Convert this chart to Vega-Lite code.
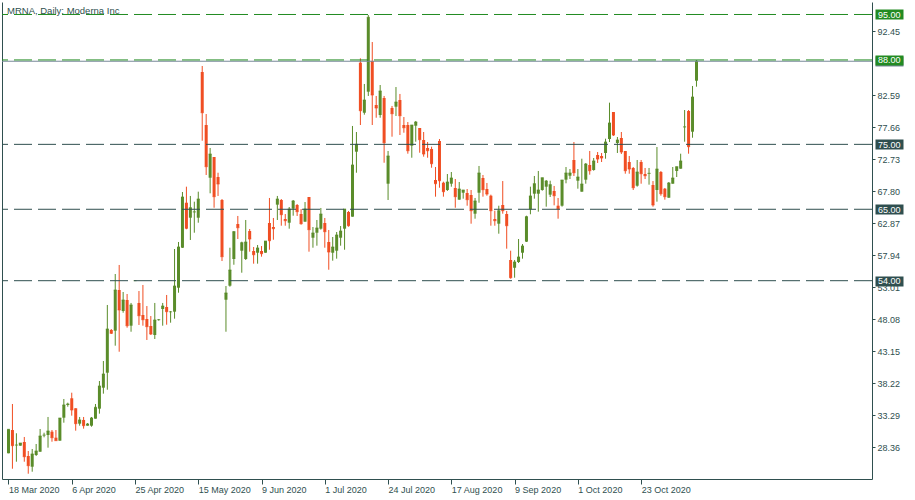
{
"$schema": "https://vega.github.io/schema/vega-lite/v6.json",
"width": 870, "height": 477,
"autosize": "none",
"padding": {"left": 2, "top": 2, "right": 43, "bottom": 21},
"background": "#ffffff",
"title": {"text": "MRNA, Daily:  Moderna Inc", "anchor": "start", "frame": "group", "orient": "top", "offset": -21, "baseline": "alphabetic", "dx": 5, "font": "Liberation Sans", "fontSize": 9.5, "fontWeight": "normal", "color": "#2f4f4f"},
"config": {"view": {"stroke": null}, "axis": {"grid": false, "labelFont": "Liberation Sans", "labelFontSize": 9, "labelColor": "#2f4f4f", "domainColor": "#2f4f4f", "tickColor": "#2f4f4f", "domainWidth": 1, "tickWidth": 1}},
"datasets": {
"candles": [
{"i":0,"open":27.42,"high":31.11,"low":27.42,"close":31.11},
{"i":1,"open":31.00,"high":35.01,"low":25.04,"close":28.59},
{"i":2,"open":28.66,"high":30.50,"low":26.12,"close":28.70},
{"i":3,"open":28.59,"high":29.00,"low":28.59,"close":29.00},
{"i":4,"open":29.16,"high":29.93,"low":26.12,"close":26.89},
{"i":5,"open":27.00,"high":27.77,"low":24.27,"close":25.51},
{"i":6,"open":25.35,"high":28.08,"low":24.58,"close":27.31},
{"i":7,"open":27.15,"high":28.85,"low":27.00,"close":27.77},
{"i":8,"open":27.66,"high":31.16,"low":27.66,"close":30.08},
{"i":9,"open":30.19,"high":30.59,"low":29.88,"close":30.23},
{"i":10,"open":30.23,"high":33.01,"low":28.28,"close":30.85},
{"i":11,"open":30.74,"high":31.00,"low":29.20,"close":29.82},
{"i":12,"open":29.82,"high":31.00,"low":29.36,"close":29.36},
{"i":13,"open":29.36,"high":32.85,"low":29.36,"close":32.85},
{"i":14,"open":32.90,"high":35.78,"low":32.13,"close":34.86},
{"i":15,"open":34.86,"high":35.21,"low":34.59,"close":35.01},
{"i":16,"open":35.89,"high":36.75,"low":33.21,"close":34.09},
{"i":17,"open":34.35,"high":34.35,"low":30.90,"close":31.98},
{"i":18,"open":31.98,"high":33.01,"low":31.67,"close":32.55},
{"i":19,"open":32.55,"high":33.01,"low":31.21,"close":31.67},
{"i":20,"open":31.67,"high":32.08,"low":31.67,"close":31.93},
{"i":21,"open":31.67,"high":33.01,"low":31.51,"close":32.85},
{"i":22,"open":32.75,"high":35.01,"low":32.75,"close":34.50},
{"i":23,"open":34.29,"high":38.55,"low":33.52,"close":37.78},
{"i":24,"open":37.52,"high":41.63,"low":36.60,"close":39.63},
{"i":25,"open":39.83,"high":50.26,"low":37.21,"close":46.56},
{"i":26,"open":46.41,"high":46.56,"low":45.79,"close":45.90},
{"i":27,"open":46.30,"high":55.03,"low":43.99,"close":52.57},
{"i":28,"open":52.57,"high":56.42,"low":43.06,"close":49.49},
{"i":29,"open":49.33,"high":52.26,"low":49.07,"close":51.03},
{"i":30,"open":51.03,"high":51.95,"low":46.76,"close":47.07},
{"i":31,"open":47.07,"high":50.57,"low":46.14,"close":50.26},
{"i":32,"open":54.00,"high":54.00,"low":54.00,"close":54.00},
{"i":33,"open":50.57,"high":52.41,"low":47.18,"close":48.61},
{"i":34,"open":48.72,"high":53.34,"low":47.07,"close":47.99},
{"i":35,"open":48.10,"high":50.10,"low":44.87,"close":46.92},
{"i":36,"open":47.02,"high":48.56,"low":45.64,"close":45.79},
{"i":37,"open":45.64,"high":50.57,"low":45.02,"close":47.95},
{"i":38,"open":47.95,"high":48.10,"low":47.84,"close":47.99},
{"i":39,"open":49.64,"high":50.57,"low":47.07,"close":50.10},
{"i":40,"open":49.95,"high":51.80,"low":47.22,"close":49.23},
{"i":41,"open":49.18,"high":49.33,"low":47.53,"close":49.20},
{"i":42,"open":49.23,"high":58.88,"low":48.15,"close":53.18},
{"i":43,"open":52.92,"high":59.96,"low":52.15,"close":59.19},
{"i":44,"open":59.08,"high":67.66,"low":59.04,"close":66.89},
{"i":45,"open":66.01,"high":68.48,"low":61.92,"close":62.07},
{"i":46,"open":63.70,"high":67.05,"low":60.27,"close":65.24},
{"i":47,"open":64.55,"high":66.17,"low":61.39,"close":64.61},
{"i":48,"open":63.70,"high":67.71,"low":62.93,"close":66.58},
{"i":49,"open":86.14,"high":87.07,"low":75.56,"close":79.87},
{"i":50,"open":77.98,"high":79.67,"low":70.28,"close":71.56},
{"i":51,"open":69.86,"high":74.44,"low":67.46,"close":73.51},
{"i":52,"open":73.05,"high":73.05,"low":65.24,"close":66.94},
{"i":53,"open":69.97,"high":70.63,"low":67.05,"close":68.89},
{"i":54,"open":66.43,"high":66.58,"low":57.03,"close":57.70},
{"i":55,"open":51.07,"high":53.18,"low":46.14,"close":52.11},
{"i":56,"open":53.23,"high":59.08,"low":53.08,"close":55.65},
{"i":57,"open":57.34,"high":61.65,"low":56.46,"close":61.55},
{"i":58,"open":62.73,"high":63.97,"low":60.42,"close":62.16},
{"i":59,"open":58.62,"high":60.01,"low":55.23,"close":59.85},
{"i":60,"open":57.34,"high":63.35,"low":57.19,"close":59.96},
{"i":61,"open":61.65,"high":61.96,"low":58.47,"close":60.42},
{"i":62,"open":58.57,"high":59.19,"low":56.62,"close":58.00},
{"i":63,"open":58.31,"high":59.50,"low":56.62,"close":59.04},
{"i":64,"open":58.57,"high":59.34,"low":57.70,"close":58.16},
{"i":65,"open":58.31,"high":60.11,"low":58.31,"close":60.11},
{"i":66,"open":62.89,"high":66.74,"low":58.77,"close":60.16},
{"i":67,"open":62.27,"high":63.66,"low":60.31,"close":62.01},
{"i":68,"open":65.71,"high":67.05,"low":63.35,"close":66.58},
{"i":69,"open":66.43,"high":66.58,"low":62.47,"close":64.17},
{"i":70,"open":63.50,"high":64.27,"low":62.47,"close":63.24},
{"i":71,"open":62.93,"high":65.35,"low":62.01,"close":65.04},
{"i":72,"open":65.09,"high":66.43,"low":64.01,"close":66.28},
{"i":73,"open":65.66,"high":65.81,"low":63.97,"close":64.63},
{"i":74,"open":64.27,"high":65.04,"low":62.63,"close":62.78},
{"i":75,"open":63.09,"high":66.12,"low":63.09,"close":65.04},
{"i":76,"open":66.89,"high":66.89,"low":58.47,"close":61.86},
{"i":77,"open":60.62,"high":62.27,"low":59.08,"close":61.35},
{"i":78,"open":61.39,"high":63.35,"low":59.39,"close":62.12},
{"i":79,"open":62.01,"high":65.20,"low":61.86,"close":64.27},
{"i":80,"open":62.89,"high":63.66,"low":59.08,"close":61.55},
{"i":81,"open":59.96,"high":61.81,"low":55.69,"close":58.42},
{"i":82,"open":58.31,"high":60.73,"low":57.08,"close":59.19},
{"i":83,"open":58.62,"high":61.50,"low":57.39,"close":61.04},
{"i":84,"open":60.62,"high":62.42,"low":59.39,"close":61.65},
{"i":85,"open":62.01,"high":65.04,"low":58.77,"close":65.04},
{"i":86,"open":64.58,"high":64.74,"low":62.32,"close":62.47},
{"i":87,"open":63.86,"high":77.83,"low":63.86,"close":71.82},
{"i":88,"open":73.87,"high":76.90,"low":70.63,"close":75.01},
{"i":89,"open":87.58,"high":88.25,"low":77.98,"close":80.18},
{"i":90,"open":79.87,"high":84.30,"low":79.57,"close":81.83},
{"i":91,"open":83.11,"high":94.92,"low":82.45,"close":94.57},
{"i":92,"open":87.84,"high":90.76,"low":77.98,"close":82.60},
{"i":93,"open":81.06,"high":82.45,"low":79.10,"close":80.60},
{"i":94,"open":79.52,"high":84.14,"low":79.10,"close":83.22},
{"i":95,"open":82.14,"high":82.45,"low":72.17,"close":75.25},
{"i":96,"open":68.94,"high":73.98,"low":66.43,"close":73.21},
{"i":97,"open":80.60,"high":80.91,"low":76.18,"close":79.72},
{"i":98,"open":80.80,"high":83.83,"low":79.37,"close":81.52},
{"i":99,"open":81.83,"high":82.76,"low":76.44,"close":79.41},
{"i":100,"open":77.98,"high":79.21,"low":76.79,"close":77.56},
{"i":101,"open":77.98,"high":78.44,"low":73.56,"close":74.02},
{"i":102,"open":74.79,"high":77.98,"low":72.94,"close":77.98},
{"i":103,"open":77.87,"high":78.60,"low":75.41,"close":78.44},
{"i":104,"open":77.52,"high":77.52,"low":73.71,"close":75.72},
{"i":105,"open":75.67,"high":76.90,"low":73.10,"close":73.51},
{"i":106,"open":74.44,"high":75.36,"low":72.94,"close":74.02},
{"i":107,"open":74.28,"high":74.64,"low":71.40,"close":72.02},
{"i":108,"open":69.51,"high":71.51,"low":66.94,"close":68.94},
{"i":109,"open":75.52,"high":75.82,"low":68.32,"close":69.40},
{"i":110,"open":69.09,"high":69.25,"low":66.94,"close":67.71},
{"i":111,"open":67.97,"high":70.43,"low":67.82,"close":69.20},
{"i":112,"open":68.94,"high":70.74,"low":68.48,"close":69.82},
{"i":113,"open":68.28,"high":69.66,"low":65.24,"close":66.94},
{"i":114,"open":66.48,"high":69.20,"low":66.48,"close":68.12},
{"i":115,"open":67.55,"high":67.97,"low":66.63,"close":67.97},
{"i":116,"open":67.51,"high":68.12,"low":65.55,"close":66.48},
{"i":117,"open":67.20,"high":67.97,"low":62.78,"close":64.78},
{"i":118,"open":64.32,"high":66.74,"low":63.55,"close":66.28},
{"i":119,"open":67.55,"high":71.67,"low":66.01,"close":70.59},
{"i":120,"open":69.82,"high":70.28,"low":66.94,"close":68.02},
{"i":121,"open":68.12,"high":69.05,"low":67.09,"close":67.35},
{"i":122,"open":67.09,"high":67.25,"low":62.47,"close":64.78},
{"i":123,"open":63.50,"high":64.78,"low":62.47,"close":63.24},
{"i":124,"open":62.78,"high":65.55,"low":61.24,"close":64.78},
{"i":125,"open":65.66,"high":69.35,"low":64.32,"close":64.78},
{"i":126,"open":64.27,"high":64.74,"low":58.93,"close":62.47},
{"i":127,"open":57.19,"high":58.62,"low":54.31,"close":54.46},
{"i":128,"open":56.00,"high":57.19,"low":54.46,"close":56.88},
{"i":129,"open":56.88,"high":60.42,"low":56.73,"close":57.65},
{"i":130,"open":58.31,"high":59.65,"low":57.39,"close":59.34},
{"i":131,"open":60.01,"high":64.01,"low":59.96,"close":63.86},
{"i":132,"open":65.00,"high":68.48,"low":64.23,"close":67.05},
{"i":133,"open":67.40,"high":70.13,"low":66.63,"close":68.94},
{"i":134,"open":67.40,"high":70.90,"low":64.63,"close":67.97},
{"i":135,"open":67.97,"high":69.86,"low":67.86,"close":69.86},
{"i":136,"open":68.48,"high":69.51,"low":65.40,"close":69.35},
{"i":137,"open":67.25,"high":69.40,"low":66.89,"close":68.79},
{"i":138,"open":67.82,"high":68.59,"low":65.61,"close":67.09},
{"i":139,"open":65.55,"high":66.74,"low":63.55,"close":65.09},
{"i":140,"open":65.55,"high":69.51,"low":65.40,"close":69.51},
{"i":141,"open":69.56,"high":71.51,"low":69.00,"close":70.59},
{"i":142,"open":70.17,"high":71.20,"low":69.66,"close":70.59},
{"i":143,"open":72.59,"high":75.36,"low":70.13,"close":70.63},
{"i":144,"open":69.40,"high":71.20,"low":68.17,"close":69.97},
{"i":145,"open":67.71,"high":72.79,"low":67.71,"close":68.89},
{"i":146,"open":69.56,"high":72.13,"low":68.94,"close":71.97},
{"i":147,"open":71.82,"high":73.98,"low":70.33,"close":70.94},
{"i":148,"open":71.05,"high":72.90,"low":70.94,"close":72.44},
{"i":149,"open":73.36,"high":73.82,"low":72.13,"close":72.74},
{"i":150,"open":73.21,"high":73.67,"low":72.28,"close":72.90},
{"i":151,"open":73.67,"high":75.87,"low":72.79,"close":75.36},
{"i":152,"open":75.82,"high":81.42,"low":75.36,"close":78.29},
{"i":153,"open":79.98,"high":79.98,"low":76.29,"close":76.44},
{"i":154,"open":75.21,"high":76.13,"low":73.67,"close":75.67},
{"i":155,"open":75.98,"high":76.90,"low":73.51,"close":73.82},
{"i":156,"open":73.98,"high":73.98,"low":70.48,"close":70.94},
{"i":157,"open":72.28,"high":73.21,"low":70.48,"close":71.20},
{"i":158,"open":71.36,"high":71.51,"low":67.97,"close":68.32},
{"i":159,"open":68.63,"high":72.59,"low":68.48,"close":70.74},
{"i":160,"open":72.28,"high":72.59,"low":68.94,"close":70.48},
{"i":161,"open":70.43,"high":71.36,"low":69.66,"close":70.17},
{"i":162,"open":70.48,"high":71.36,"low":68.79,"close":70.54},
{"i":163,"open":68.74,"high":69.35,"low":65.40,"close":65.66},
{"i":164,"open":67.97,"high":74.59,"low":66.17,"close":71.20},
{"i":165,"open":70.74,"high":70.90,"low":67.09,"close":67.40},
{"i":166,"open":68.17,"high":68.28,"low":66.48,"close":66.94},
{"i":167,"open":66.78,"high":69.20,"low":66.78,"close":69.05},
{"i":168,"open":68.94,"high":71.51,"low":68.94,"close":69.82},
{"i":169,"open":70.90,"high":71.56,"low":69.97,"close":71.56},
{"i":170,"open":71.25,"high":73.56,"low":71.25,"close":72.44},
{"i":171,"open":77.64,"high":80.29,"low":75.41,"close":77.70},
{"i":172,"open":80.14,"high":80.29,"low":73.56,"close":74.64},
{"i":173,"open":76.95,"high":83.99,"low":76.02,"close":82.29},
{"i":174,"open":84.80,"high":87.99,"low":83.88,"close":87.80}
],
"levels": [{"level":95},{"level":88},{"level":75},{"level":65},{"level":54}],
"bid": [{"bid":87.8}]
},
"resolve": {"axis": {"y": "independent"}},
"layer": [
{"data": {"name": "candles"},
 "mark": {"type": "rule", "strokeWidth": 1},
 "encoding": {
  "x": {"field": "i", "type": "quantitative", "scale": {"domain": [-0.375, 217.125], "nice": false, "zero": false},
        "axis": {"title": null, "values": [0,16,32,48,64,80,96,112,128,144,160],
                 "labelExpr": "['18 Mar 2020','6 Apr 2020','25 Apr 2020','15 May 2020','9 Jun 2020','1 Jul 2020','24 Jul 2020','17 Aug 2020','9 Sep 2020','1 Oct 2020','23 Oct 2020'][round(datum.value/16)]",
                 "labelAlign": "left", "labelBaseline": "top", "labelPadding": 1, "tickSize": 5,
                 "labelFlush": false, "labelOverlap": false, "labelBound": false}},
  "y": {"field": "low", "type": "quantitative", "scale": {"domain": [23.457, 96.925], "nice": false, "zero": false},
        "axis": {"title": null, "orient": "right", "zindex": 1,
                 "values": [28.36,33.29,38.22,43.15,48.08,53.01,57.94,62.87,67.80,72.73,77.66,82.59,92.45],
                 "format": ".2f", "tickSize": 3, "labelPadding": 2, "labelOverlap": false, "labelFlush": false, "labelBound": false}},
  "y2": {"field": "high"},
  "color": {"condition": {"test": "datum.close >= datum.open", "value": "#5a8c2a"}, "value": "#f04e23"}
 }},
{"data": {"name": "candles"},
 "mark": {"type": "bar", "width": 3},
 "encoding": {
  "x": {"field": "i", "type": "quantitative"},
  "y": {"field": "open", "type": "quantitative",
        "axis": {"title": null, "orient": "left", "labels": false, "ticks": false, "domain": true}},
  "y2": {"field": "close"},
  "color": {"condition": {"test": "datum.close >= datum.open", "value": "#5a8c2a"}, "value": "#f04e23"}
 }},
{"data": {"name": "candles"},
 "mark": {"type": "tick", "orient": "horizontal", "size": 3, "thickness": 1},
 "encoding": {
  "x": {"field": "i", "type": "quantitative"},
  "y": {"field": "close", "type": "quantitative", "axis": null},
  "color": {"condition": {"test": "datum.close >= datum.open", "value": "#5a8c2a"}, "value": "#f04e23"}
 }},
{"data": {"name": "bid"},
 "mark": {"type": "rule", "strokeWidth": 1, "color": "#778899"},
 "encoding": {
  "y": {"field": "bid", "type": "quantitative", "axis": null}
 }},
{"data": {"name": "levels"},
 "mark": {"type": "rule", "strokeWidth": 1, "strokeDash": [18, 6]},
 "encoding": {
  "y": {"field": "level", "type": "quantitative",
        "axis": {"title": null, "orient": "right", "offset": 3, "zindex": 2, "domain": false,
                 "values": [87.8, 95, 88, 75, 65, 54], "format": ".2f",
                 "labelExpr": "datum.value > 87.5 && datum.value < 87.9 ? '' : datum.label",
                 "tickSize": 28, "tickWidth": 10,
                 "tickColor": {"condition": [{"test": "datum.value > 87.5 && datum.value < 87.9", "value": "#778899"}, {"test": "datum.value >= 88", "value": "#228b22"}], "value": "#2f4f4f"},
                 "labelColor": "#ffffff", "labelPadding": -25.5, "labelAlign": "left",
                 "labelOverlap": false, "labelFlush": false, "labelBound": false}},
  "color": {"condition": {"test": "datum.level > 87.8", "value": "#228b22"}, "value": "#2f4f4f"}
 }}
]
}
